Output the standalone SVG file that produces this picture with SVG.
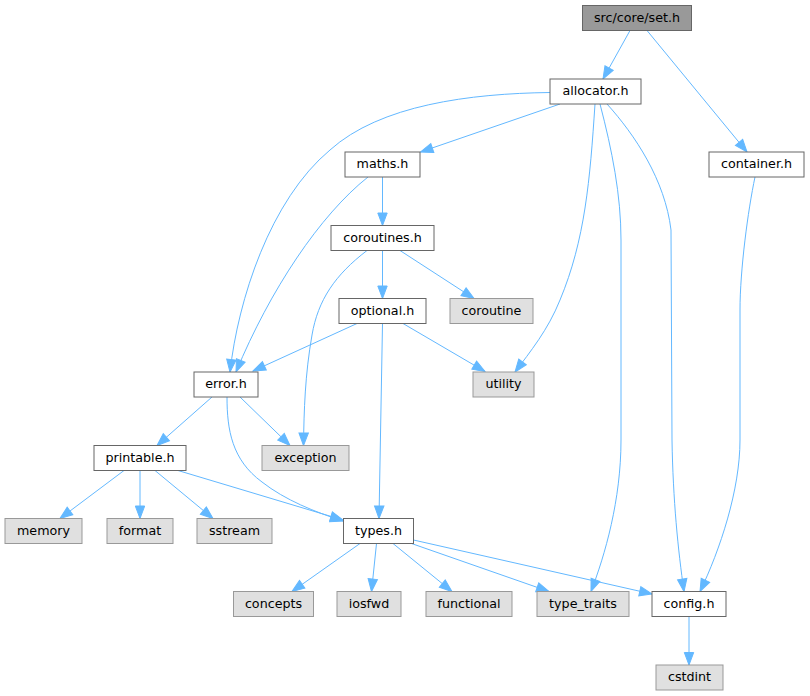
<svg xmlns="http://www.w3.org/2000/svg" width="810" height="696" viewBox="0 0 810 696">
<style>
.n rect{fill:#ffffff;stroke:#666666;stroke-width:1}
.x rect{fill:#e0e0e0;stroke:#999999;stroke-width:1}
.r rect{fill:#999999;stroke:#666666;stroke-width:1}
text{font-family:"DejaVu Sans","Liberation Sans",sans-serif;font-size:12.7px;fill:#000000;text-anchor:middle}
#edges path{fill:none;stroke:#63b8ff;stroke-width:1;marker-end:url(#a)}
</style>
<defs>
<marker id="a" markerUnits="userSpaceOnUse" markerWidth="16" markerHeight="14" refX="13" refY="7" orient="auto" overflow="visible">
<path d="M0.5,2.3 L13,7 L0.5,11.7 z" fill="#63b8ff" stroke="#63b8ff" stroke-width="1"/>
</marker>
</defs>
<rect width="810" height="696" fill="#ffffff"/>
<g id="edges">
<path d="M630,30.5 L603,79"/>
<path d="M647,30.5 L747,152"/>
<path d="M560,104 L420.5,152"/>
<path d="M550,92.5 C470,93.5 380,105 330,150 C270,200 238,300 230,372"/>
<path d="M368,177 C320,215 270,290 236,372"/>
<path d="M382.5,177 L382.5,225.5"/>
<path d="M382.5,250.5 L382.5,298.5"/>
<path d="M400,250.5 L474,298.5"/>
<path d="M367,250.5 C335,275 318,300 312,335 C305,375 304,410 303.5,445.5"/>
<path d="M357,323.5 L253,371"/>
<path d="M403,323.5 L485,371.5"/>
<path d="M382.5,323.5 L379,518.5"/>
<path d="M595,104 C590,180 585,240 560,300 C548,330 530,352 515,372"/>
<path d="M600,104 C612,150 621,195 621,240 L621,440 C621,500 605,555 591,591.5"/>
<path d="M607,104 C635,135 665,180 671,230 L672,440 C673,500 678,550 684,591.5"/>
<path d="M755,177 C748,210 740,270 740,310 L740,440 C740,490 720,550 700,591.5"/>
<path d="M212,397 L157,445.5"/>
<path d="M240,397 L290,445.5"/>
<path d="M227,397 C227,430 232,460 262,482 C285,500 315,512 343,521"/>
<path d="M124,470.5 L60,518.5"/>
<path d="M140,470.5 L140,518.5"/>
<path d="M155,470.5 L213,518.5"/>
<path d="M178,470.5 L343,520"/>
<path d="M360,543.5 L292,591.5"/>
<path d="M376.5,543.5 L371.5,591.5"/>
<path d="M393,543.5 L452,591.5"/>
<path d="M411.5,543.5 L549,591.5"/>
<path d="M413.5,540 L652,594"/>
<path d="M689,617 L689,665"/>
</g>
<g id="set_h" class="r"><rect x="582.5" y="5.5" width="109" height="25"/><text x="637" y="21.8">src/core/set.h</text></g>
<g id="allocator_h" class="n"><rect x="550" y="79" width="91" height="25"/><text x="595.5" y="95.3">allocator.h</text></g>
<g id="container_h" class="n"><rect x="709" y="152" width="95" height="25"/><text x="756.5" y="168.3">container.h</text></g>
<g id="maths_h" class="n"><rect x="345" y="152" width="75" height="25"/><text x="382.5" y="168.3">maths.h</text></g>
<g id="coroutines_h" class="n"><rect x="331" y="225.5" width="103" height="25"/><text x="382.5" y="241.8">coroutines.h</text></g>
<g id="optional_h" class="n"><rect x="339" y="298.5" width="87" height="25"/><text x="382.5" y="314.8">optional.h</text></g>
<g id="coroutine" class="x"><rect x="450" y="298.5" width="83" height="25"/><text x="491.5" y="314.8">coroutine</text></g>
<g id="utility" class="x"><rect x="473" y="372" width="61" height="25"/><text x="503.5" y="388.3">utility</text></g>
<g id="error_h" class="n"><rect x="194" y="372" width="64" height="25"/><text x="226" y="388.3">error.h</text></g>
<g id="exception" class="x"><rect x="262" y="445.5" width="87" height="25"/><text x="305.5" y="461.8">exception</text></g>
<g id="printable_h" class="n"><rect x="94" y="445.5" width="92" height="25"/><text x="140" y="461.8">printable.h</text></g>
<g id="memory" class="x"><rect x="5" y="518.5" width="77" height="25"/><text x="43.5" y="534.8">memory</text></g>
<g id="format" class="x"><rect x="107" y="518.5" width="66" height="25"/><text x="140" y="534.8">format</text></g>
<g id="sstream" class="x"><rect x="197" y="518.5" width="75" height="25"/><text x="234.5" y="534.8">sstream</text></g>
<g id="types_h" class="n"><rect x="343.5" y="518.5" width="70" height="25"/><text x="378.5" y="534.8">types.h</text></g>
<g id="concepts" class="x"><rect x="233.5" y="591.5" width="80" height="25"/><text x="273.5" y="607.8">concepts</text></g>
<g id="iosfwd" class="x"><rect x="337" y="591.5" width="64" height="25"/><text x="369" y="607.8">iosfwd</text></g>
<g id="functional" class="x"><rect x="426" y="591.5" width="86" height="25"/><text x="469" y="607.8">functional</text></g>
<g id="type_traits" class="x"><rect x="537" y="591.5" width="92" height="25"/><text x="583" y="607.8">type_traits</text></g>
<g id="config_h" class="n"><rect x="652" y="591.5" width="74" height="25"/><text x="689" y="607.8">config.h</text></g>
<g id="cstdint" class="x"><rect x="656" y="665" width="67" height="25"/><text x="689.5" y="681.3">cstdint</text></g>
</svg>
